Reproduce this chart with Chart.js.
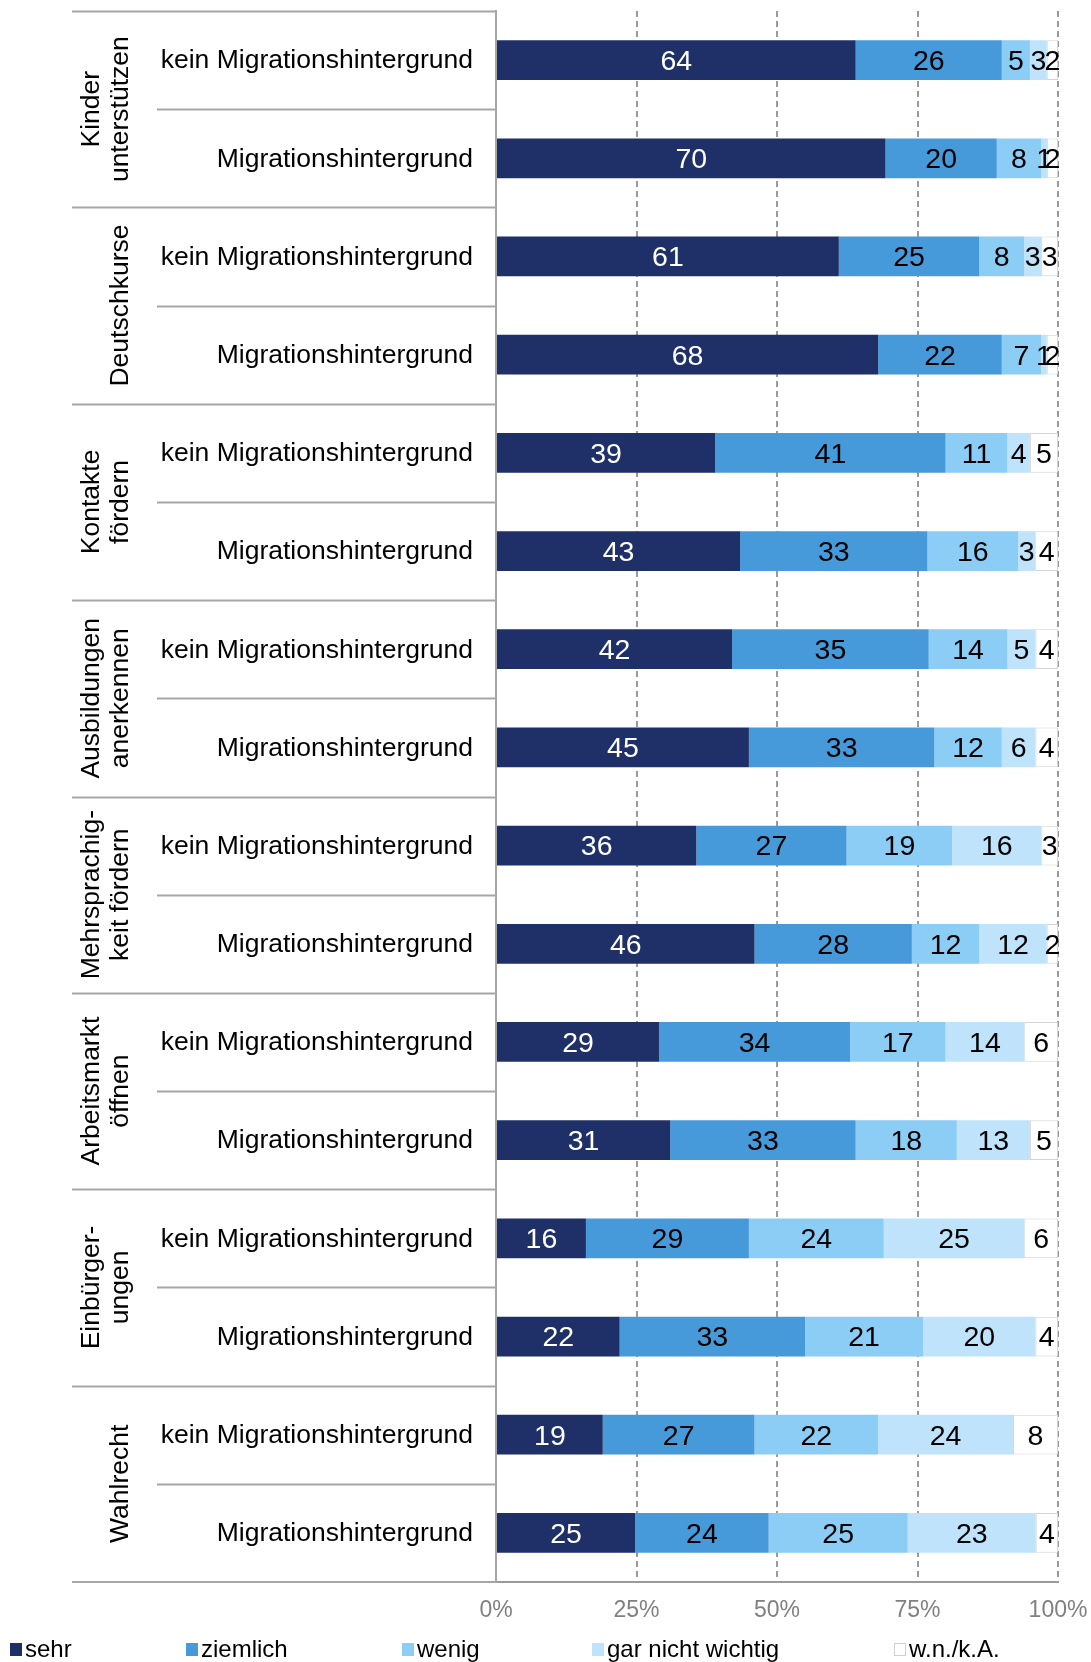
<!DOCTYPE html>
<html>
<head>
<meta charset="utf-8">
<script src="https://cdn.jsdelivr.net/npm/chart.js@4/dist/chart.umd.min.js"></script>
<style>html,body{margin:0;padding:0;background:#fff}</style>
</head>
<body>
<canvas id="chart" width="1091" height="1662"></canvas>
<script>
// Wichtigkeit von Integrationsmaßnahmen, nach Migrationshintergrund (Angaben in %)

const groups = [
  ['Kinder', 'unterstützen'],
  ['Deutschkurse'],
  ['Kontakte', 'fördern'],
  ['Ausbildungen', 'anerkennen'],
  ['Mehrsprachig-', 'keit fördern'],
  ['Arbeitsmarkt', 'öffnen'],
  ['Einbürger-', 'ungen'],
  ['Wahlrecht'],
];
const subLabels = ['kein Migrationshintergrund', 'Migrationshintergrund'];
const seriesNames = ['sehr', 'ziemlich', 'wenig', 'gar nicht wichtig', 'w.n./k.A.'];

const sehr     = [64, 70, 61, 68, 39, 43, 42, 45, 36, 46, 29, 31, 16, 22, 19, 25];
const ziemlich = [26, 20, 25, 22, 41, 33, 35, 33, 27, 28, 34, 33, 29, 33, 27, 24];
const wenig    = [5, 8, 8, 7, 11, 16, 14, 12, 19, 12, 17, 18, 24, 21, 22, 25];
const garNicht = [3, 1, 3, 1, 4, 3, 5, 6, 16, 12, 14, 13, 25, 20, 24, 23];
const wnka     = [2, 2, 3, 2, 5, 4, 4, 4, 3, 2, 6, 5, 6, 4, 8, 4];

const xTicks = [0, 25, 50, 75, 100];

const colors = ['#1e3067', '#469ad9', '#8bcdf5', '#bee3fb', '#ffffff'];
const FONT = '"Liberation Sans", Arial, Helvetica, sans-serif';
const GRID = '#9a9a9a';
const LINE = '#a6a6a6';

// row labels: one per bar
const rowLabels = [];
groups.forEach(() => subLabels.forEach(s => rowLabels.push(s)));

const raw = [sehr, ziemlich, wenig, garNicht, wnka];
const totals = sehr.map((_, i) => raw.reduce((s, arr) => s + arr[i], 0));

// ── Plugins ────────────────────────────────────────────────

const leftPanel = {
  id: 'leftPanel',
  afterDraw(chart) {
    const { ctx, chartArea: a, scales: { y } } = chart;
    const band = (a.bottom - a.top) / rowLabels.length;
    const left = 72, subLeft = 157;
    ctx.save();
    ctx.strokeStyle = LINE;
    ctx.lineWidth = 2;

    // horizontal separators
    for (let i = 0; i < rowLabels.length; i++) {
      const yy = Math.round(a.top + i * band) + 0.5;
      ctx.beginPath();
      ctx.moveTo(i % 2 === 0 ? left : subLeft, yy);
      ctx.lineTo(a.left, yy);
      ctx.stroke();
    }
    // bottom line: solid in label area
    ctx.beginPath();
    ctx.moveTo(left, a.bottom);
    ctx.lineTo(a.left, a.bottom);
    ctx.stroke();

    // row labels
    ctx.fillStyle = '#000';
    ctx.font = '26.5px ' + FONT;
    ctx.textAlign = 'right';
    ctx.textBaseline = 'middle';
    rowLabels.forEach((t, i) => {
      ctx.fillText(t, 473, y.getPixelForValue(i) + 1);
    });

    // group labels, rotated
    ctx.textAlign = 'center';
    ctx.textBaseline = 'alphabetic';
    groups.forEach((lines, g) => {
      const cy = a.top + (g * 2 + 1) * band;
      ctx.save();
      ctx.translate(0, cy);
      ctx.rotate(-Math.PI / 2);
      const lastBase = 128, lh = 29;
      lines.forEach((t, k) => {
        const base = lastBase - (lines.length - 1 - k) * lh;
        ctx.fillText(t, 0, base);
      });
      ctx.restore();
    });
    ctx.restore();
  }
};

const valueLabels = {
  id: 'valueLabels',
  afterDatasetsDraw(chart) {
    const { ctx } = chart;
    ctx.save();
    ctx.font = '28.5px ' + FONT;
    ctx.textAlign = 'center';
    ctx.textBaseline = 'middle';
    chart.data.datasets.forEach((ds, di) => {
      const meta = chart.getDatasetMeta(di);
      meta.data.forEach((el, i) => {
        const v = raw[di][i];
        ctx.fillStyle = di === 0 ? '#fff' : '#000';
        ctx.fillText(String(v), (el.x + el.base) / 2, el.y + 2);
      });
    });
    ctx.restore();
  }
};

const bottomLegend = {
  id: 'bottomLegend',
  afterDraw(chart) {
    const { ctx } = chart;
    const xs = [10, 186, 402, 592, 894];
    const yc = 1649;
    ctx.save();
    ctx.font = '24px ' + FONT;
    ctx.textAlign = 'left';
    ctx.textBaseline = 'middle';
    seriesNames.forEach((n, i) => {
      ctx.fillStyle = colors[i];
      ctx.fillRect(xs[i], yc - 6, 12, 13);
      if (i === 4) {
        ctx.strokeStyle = '#d0d0d0';
        ctx.lineWidth = 1;
        ctx.strokeRect(xs[i] + 0.5, yc - 5.5, 11, 12);
      }
      ctx.fillStyle = '#000';
      ctx.fillText(n, xs[i] + 15, yc + 1);
    });
    ctx.restore();
  }
};

// ── Chart ──────────────────────────────────────────────────

new Chart(document.getElementById('chart'), {
  type: 'bar',
  data: {
    labels: rowLabels,
    datasets: seriesNames.map((name, di) => ({
      label: name,
      data: raw[di].map((v, i) => v / totals[i] * 100),
      backgroundColor: colors[di],
      borderColor: di === 4 ? '#d4d4d4' : colors[di],
      borderWidth: di === 4 ? 1 : 0,
      borderSkipped: false,
      barPercentage: 0.405,
      categoryPercentage: 1,
    }))
  },
  options: {
    indexAxis: 'y',
    responsive: false,
    animation: false,
    layout: { padding: { top: 11, right: 33, left: 0, bottom: 0 } },
    plugins: {
      legend: { display: false },
      tooltip: { enabled: false },
    },
    scales: {
      x: {
        stacked: true,
        min: 0,
        max: 100,
        afterBuildTicks: s => { s.ticks = xTicks.map(v => ({ value: v })); },
        afterFit: s => { s.height = 80; s.paddingLeft = 0; s.paddingRight = 0; },
        grid: {
          color: c => c.tick && c.tick.value === 0 ? 'rgba(0,0,0,0)' : GRID,
          lineWidth: 2,
          drawTicks: false,
        },
        border: { display: true, color: GRID, width: 2, dash: [6, 4] },
        ticks: {
          padding: 15,
          color: '#808080',
          font: { family: FONT, size: 23 },
          callback: v => v + '%',
        },
      },
      y: {
        stacked: true,
        afterFit: s => { s.width = 496; },
        grid: { display: false },
        border: { display: true, color: LINE, width: 2 },
        ticks: { display: false },
      },
    },
  },
  plugins: [leftPanel, valueLabels, bottomLegend],
});
</script>
</body>
</html>
